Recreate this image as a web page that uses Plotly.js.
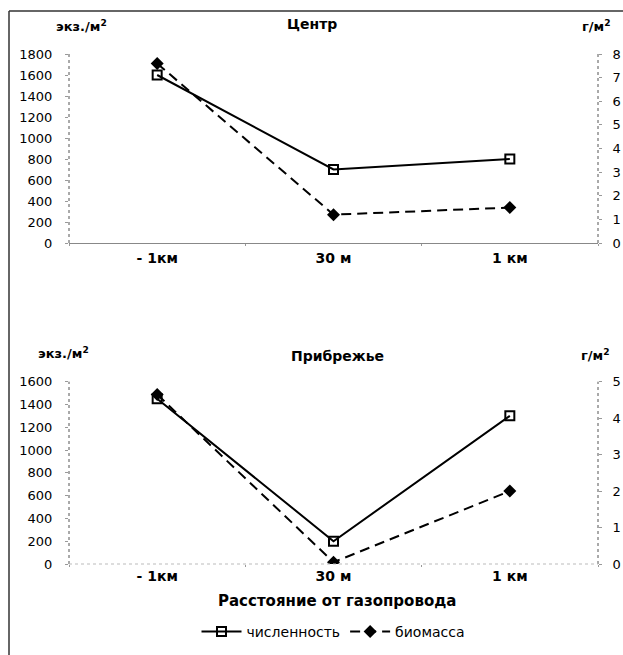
<!DOCTYPE html>
<html>
<head>
<meta charset="utf-8">
<script src="https://cdn.plot.ly/plotly-3.0.1.min.js"></script>
<style>html,body{margin:0;padding:0;background:#fff;}#chart{width:623px;height:655px;}</style>
</head>
<body>
<div id="chart"></div>
<script>
// Categories (distance from the gas pipeline)
const categories = ['- 1км', '30 м', '1 км'];

// Panel 1: "Центр"
const centerAbundance = [1600, 700, 800];   // экз./м2
const centerBiomass = [7.6, 1.2, 1.5];      // г/м2

// Panel 2: "Прибрежье"
const coastAbundance = [1450, 200, 1300];   // экз./м2
const coastBiomass = [4.65, 0.05, 2.0];     // г/м2

const seriesNames = ['численность', 'биомасса'];
const panelTitles = ['Центр', 'Прибрежье'];
const leftUnit = 'экз./м<sup>2</sup>';
const rightUnit = 'г/м<sup>2</sup>';
const xTitle = 'Расстояние от газопровода';

const FONT = 'DejaVu Sans, Liberation Sans, Arial, sans-serif';

const solidLine = {color: '#000', width: 2};
const dashLine = {color: '#000', width: 2, dash: '10px,6px'};
const squareMarker = {symbol: 'square-open', size: 9, color: '#000', line: {width: 2, color: '#000'}};
const diamondMarker = {symbol: 'diamond', size: 10, color: '#000'};

const traces = [
  {x: categories, y: centerAbundance, xaxis: 'x', yaxis: 'y', name: seriesNames[0], mode: 'lines+markers', line: solidLine, marker: squareMarker, showlegend: true},
  {x: categories, y: centerBiomass, xaxis: 'x', yaxis: 'y2', name: seriesNames[1], mode: 'lines+markers', line: dashLine, marker: diamondMarker, showlegend: true},
  {x: categories, y: coastAbundance, xaxis: 'x2', yaxis: 'y3', name: seriesNames[0], mode: 'lines+markers', line: solidLine, marker: squareMarker, showlegend: false},
  {x: categories, y: coastBiomass, xaxis: 'x2', yaxis: 'y4', name: seriesNames[1], mode: 'lines+markers', line: dashLine, marker: diamondMarker, showlegend: false}
];

const tickFont = {family: FONT, size: 13, color: '#000'};
const catFont = {family: FONT, size: 14, color: '#000', weight: 'bold'};

function xAx(anchor, lineColor) {
  return {
    anchor: anchor, domain: [0, 1], type: 'category', range: [-0.5, 2.5],
    showgrid: false, zeroline: false, showline: lineColor !== null,
    linecolor: lineColor || '#888', linewidth: 1,
    ticks: 'outside', ticklen: 2, tickcolor: '#999', tickson: 'boundaries',
    ticklabelstandoff: 2, tickfont: catFont, fixedrange: true
  };
}
function yAx(anchor, domain, range, dtick, side, overlay) {
  const a = {
    anchor: anchor, range: range, dtick: dtick, tick0: 0, side: side,
    showgrid: false, zeroline: false, showline: false,
    ticks: 'outside', ticklen: 3, tickcolor: '#999', tickfont: tickFont,
    ticklabelstandoff: side === 'right' ? 8 : 10, fixedrange: true
  };
  if (overlay) a.overlaying = overlay; else a.domain = domain;
  return a;
}

const px2x = p => (p - 69) / 529;
const px2y = p => (564 - p) / 510;

const shapes = [
  // outer frame (left and top)
  {type: 'line', xref: 'paper', yref: 'paper', x0: px2x(9), x1: px2x(9), y0: px2y(11), y1: px2y(660), line: {color: '#333', width: 1.5}},
  {type: 'line', xref: 'paper', yref: 'paper', x0: px2x(9), x1: px2x(630), y0: px2y(11), y1: px2y(11), line: {color: '#333', width: 1.5}},
  // dotted y axis lines
  {type: 'line', xref: 'x domain', yref: 'y domain', x0: 0, x1: 0, y0: 0, y1: 1, line: {color: '#555', width: 1, dash: 'dot'}},
  {type: 'line', xref: 'x domain', yref: 'y domain', x0: 1, x1: 1, y0: 0, y1: 1, line: {color: '#555', width: 1, dash: 'dot'}},
  {type: 'line', xref: 'x2 domain', yref: 'y3 domain', x0: 0, x1: 0, y0: 0, y1: 1, line: {color: '#555', width: 1, dash: 'dot'}},
  {type: 'line', xref: 'x2 domain', yref: 'y3 domain', x0: 1, x1: 1, y0: 0, y1: 1, line: {color: '#555', width: 1, dash: 'dot'}},
  // faint dotted x axis of the lower panel
  {type: 'line', xref: 'x2 domain', yref: 'y3 domain', x0: 0, x1: 1, y0: 0, y1: 0, line: {color: '#bbb', width: 1, dash: 'dot'}}
];

function ann(text, px, py, font) {
  return {text: text, xref: 'paper', yref: 'paper', x: px2x(px), y: px2y(py),
          xanchor: 'center', yanchor: 'middle', showarrow: false, font: font};
}
const annFont = {family: FONT, size: 13, color: '#000', weight: 'bold'};
const titleFont = {family: FONT, size: 14, color: '#000', weight: 'bold'};
const annotations = [
  ann(panelTitles[0], 312, 24, titleFont),
  ann(panelTitles[1], 337, 356, titleFont),
  ann(leftUnit, 81, 26, annFont),
  ann(leftUnit, 63, 353, annFont),
  ann(rightUnit, 596, 26, annFont),
  ann(rightUnit, 595, 355, annFont),
  ann(xTitle, 337, 601, {family: FONT, size: 15, color: '#000', weight: 'bold'})
];

const layout = {
  width: 623, height: 655,
  margin: {l: 69, r: 25, t: 54, b: 91, pad: 0, autoexpand: false},
  paper_bgcolor: '#fff', plot_bgcolor: 'rgba(0,0,0,0)',
  showlegend: true,
  legend: {orientation: 'h', x: 0.5, xanchor: 'center', y: px2y(632), yanchor: 'middle',
           font: {family: FONT, size: 14, color: '#000'}, bgcolor: 'rgba(0,0,0,0)', itemwidth: 40, tracegroupgap: 0},
  xaxis: xAx('y', '#888'),
  yaxis: yAx('x', [0.6294, 1], [0, 1800], 200, 'left'),
  yaxis2: yAx('x', null, [0, 8], 1, 'right', 'y'),
  xaxis2: xAx('y3', null),
  yaxis3: yAx('x2', [0, 0.3575], [0, 1600], 200, 'left'),
  yaxis4: yAx('x2', null, [0, 5], 1, 'right', 'y3'),
  shapes: shapes,
  annotations: annotations
};

Plotly.newPlot('chart', traces, layout, {displayModeBar: false, staticPlot: true});
</script>
</body>
</html>
